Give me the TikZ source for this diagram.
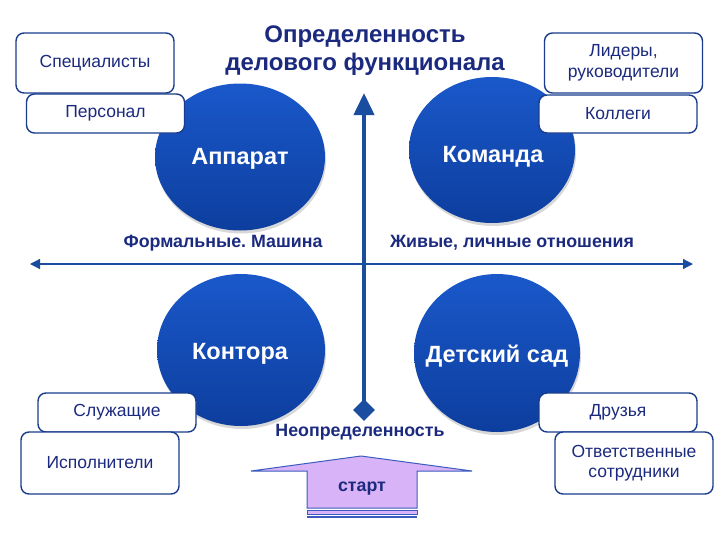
\documentclass[tikz,border=0pt]{standalone}
\usepackage{fontspec}
\setmainfont{Liberation Sans}
\usetikzlibrary{shadows,arrows.meta,shapes.geometric}
\definecolor{navy}{HTML}{1B2A7E}
\definecolor{axis}{HTML}{1A4DA0}
\definecolor{ctop}{HTML}{1A58CA}
\definecolor{cbot}{HTML}{0D3E9E}
\definecolor{boxline}{HTML}{1A3C8C}
\definecolor{lav}{HTML}{D9B3F7}
\definecolor{startline}{HTML}{3A5CC0}
\frenchspacing
\begin{document}
\begin{tikzpicture}[x=1pt,y=-1pt,
 blob/.style={ellipse, inner sep=0pt, top color=ctop, bottom color=cbot, draw=none,
   drop shadow={opacity=0.3, shadow xshift=1pt, shadow yshift=-3pt}},
 blobtext/.style={text=white, font=\fontsize{23.5}{28}\selectfont\bfseries, inner sep=0pt},
 tag/.style={draw=boxline, line width=1.4pt, rounded corners=8pt, fill=white, text=navy,
   font=\fontsize{17.5}{20.5}\selectfont, align=center, inner sep=0pt, minimum width=158pt},
 lbl/.style={text=navy, font=\fontsize{17.8}{20}\selectfont\bfseries}]
\useasboundingbox (0,0) rectangle (719,538);
\fill[white] (0,0) rectangle (719,538);

% title
\node[text=navy, font=\fontsize{24}{28}\selectfont\bfseries, align=center] (title) at (365,51)
  {Определенность\\делового функционала};

% axes
\node[diamond, fill=axis, minimum size=22pt, inner sep=0pt] (dia) at (364,410) {};
\coordinate (vtop) at (364,93);
\draw[axis, line width=4pt, -{Triangle[width=20pt,length=22pt]}] (dia.center) -- (vtop);
\coordinate (hl) at (30,264);
\coordinate (hr) at (693,264);
\draw[axis, line width=1.3pt, {Triangle[width=10pt,length=10pt]}-{Triangle[width=10pt,length=10pt]}] (hl) -- (hr);

\node[lbl] (formal) at (223,243) {Формальные. Машина};
\node[lbl] (live) at (512,243) {Живые, личные отношения};
\node[lbl] (neopr) at (360,432) {Неопределенность};

% circles
\node[blob, minimum width=170pt, minimum height=147pt] (app) at (240,157) {};
\node[blob, minimum width=166pt, minimum height=146pt] (kom) at (492,150) {};
\node[blob, minimum width=168pt, minimum height=152pt] (kon) at (241,350) {};
\node[blob, minimum width=166pt, minimum height=158pt] (det) at (497,353) {};
\node[blobtext] (appt) at (240,159) {Аппарат};
\node[blobtext] (komt) at (493,157) {Команда};
\node[blobtext] (kont) at (240,354) {Контора};
\node[blobtext] (dett) at (497,356) {Детский сад};

% boxes
\node[tag, minimum height=60pt] (spec) at (95,63) {Специалисты};
\node[tag, minimum height=39pt] (pers) at (105.5,113.5) {Персонал};
\node[tag, minimum height=60pt] (lid) at (623.5,63) {Лидеры,\\руководители};
\node[tag, minimum height=38pt] (kol) at (618,114) {Коллеги};
\node[tag, minimum height=39pt] (slu) at (117,412.5) {Служащие};
\node[tag, minimum height=62pt] (isp) at (100,463) {Исполнители};
\node[tag, minimum height=39pt] (dru) at (618,412.5) {Друзья};
\node[tag, minimum height=62pt] (otv) at (634,463) {Ответственные\\сотрудники};

% start arrow
\filldraw[fill=lav, draw=startline, line width=1pt]
  (307,508) -- (307,471) -- (251,471) -- (361,456) -- (472,471) -- (417,471) -- (417,508) -- cycle;
\filldraw[fill=lav, draw=startline, line width=0.8pt] (307,510.5) rectangle (417,514);
\draw[startline, line width=1.2pt] (307,517) -- (417,517);
\node[lbl] (start) at (362,489) {старт};
\end{tikzpicture}
\end{document}
